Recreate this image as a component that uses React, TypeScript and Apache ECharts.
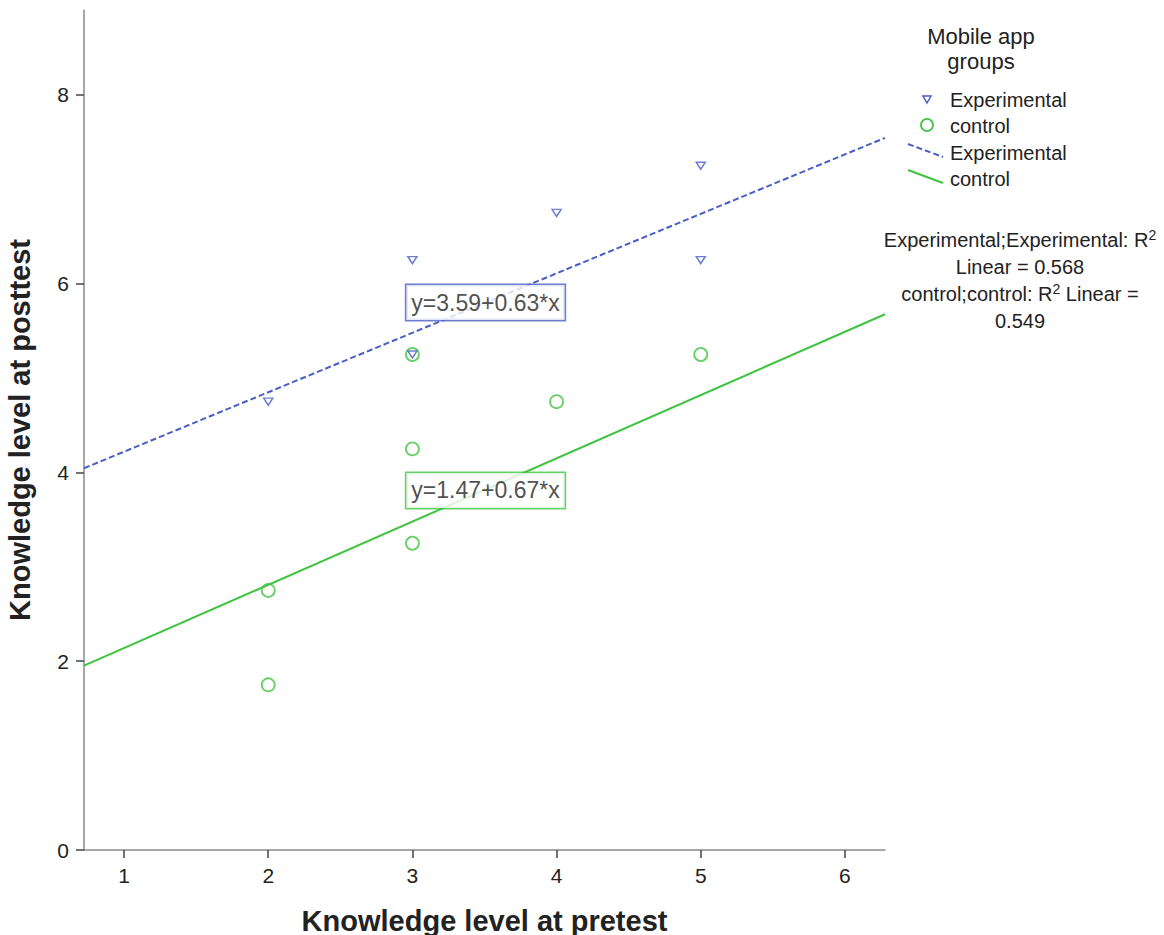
import React, { useEffect, useRef } from "react";
import * as echarts from "echarts";

// ---- data ----
const expX = [2, 3, 3, 4, 5, 5];
const expY = [4.75, 6.25, 5.25, 6.75, 7.25, 6.25];
const ctrlX = [2, 2, 3, 3, 3, 4, 5];
const ctrlY = [2.75, 1.75, 5.25, 4.25, 3.25, 4.75, 5.25];
const fitNames = ["Experimental", "control"];
const fitIntercepts = [3.59, 1.47];
const fitSlopes = [0.63, 0.67];
const rSquared = [0.568, 0.549];
const xTicks = [1, 2, 3, 4, 5, 6];
const yTicks = [0, 2, 4, 6, 8];
const xRange = [0.722, 6.278];
const yRange = [0, 8.9];

const BLUE = "#4a5ec4";
const GREEN = "#3fc43f";
const FONT = "'Liberation Sans', Arial, sans-serif";

export default function App() {
  const ref = useRef<HTMLDivElement>(null);

  useEffect(() => {
    document.body.style.margin = "0";
    if (!ref.current) return;
    const chart = echarts.init(ref.current, null, { renderer: "svg" });

    const fitLine = (i: number) =>
      [xRange[0], xRange[1]].map((x) => [x, fitIntercepts[i] + fitSlopes[i] * x]);
    const eqText = (i: number) =>
      `y=${fitIntercepts[i].toFixed(2)}+${fitSlopes[i].toFixed(2)}*x`;

    const legendText = { fontSize: 20, fill: "#222", fontFamily: FONT };

    const eqLabel = (i: number, color: string) => ({
      show: true,
      position: "inside",
      formatter: eqText(i),
      fontSize: 23,
      color: "#222",
      backgroundColor: "#fff",
      borderColor: color,
      borderWidth: 1.5,
      padding: [7, 5, 5, 5],
      fontFamily: FONT,
    });

    chart.setOption({
      animation: false,
      textStyle: { fontFamily: FONT },
      grid: { left: 84, right: 279, top: 10, bottom: 85, containLabel: false, outerBoundsMode: "none" },
      xAxis: {
        type: "value",
        min: xRange[0],
        max: xRange[1],
        name: "Knowledge level at pretest",
        nameLocation: "middle",
        nameGap: 56,
        nameTextStyle: { fontSize: 29, fontWeight: "bold", color: "#222", fontFamily: FONT },
        axisLine: { show: true, lineStyle: { color: "#8a8a8a", width: 1.5 } },
        axisTick: { show: true, length: 8, customValues: xTicks, lineStyle: { color: "#444", width: 1.5 } },
        axisLabel: { customValues: xTicks, fontSize: 21, color: "#222", margin: 15, fontFamily: FONT },
        splitLine: { show: false },
      },
      yAxis: {
        type: "value",
        min: yRange[0],
        max: yRange[1],
        name: "Knowledge level at posttest",
        nameLocation: "middle",
        nameGap: 50,
        nameTextStyle: { fontSize: 29, fontWeight: "bold", color: "#222", fontFamily: FONT },
        axisLine: { show: true, lineStyle: { color: "#8a8a8a", width: 1.5 } },
        axisTick: { show: true, length: 8, customValues: yTicks, lineStyle: { color: "#444", width: 1.5 } },
        axisLabel: { customValues: yTicks, fontSize: 21, color: "#222", margin: 15, fontFamily: FONT },
        splitLine: { show: false },
      },
      series: [
        {
          name: "Experimental fit",
          type: "line",
          data: fitLine(0),
          showSymbol: false,
          lineStyle: { color: BLUE, width: 2, type: [6, 3] },
          silent: true,
          z: 2,
        },
        {
          name: "control fit",
          type: "line",
          data: fitLine(1),
          showSymbol: false,
          lineStyle: { color: GREEN, width: 2 },
          silent: true,
          z: 2,
        },
        {
          name: "control",
          type: "scatter",
          data: ctrlX.map((x, i) => [x, ctrlY[i]]),
          symbol: "circle",
          symbolSize: 13,
          itemStyle: { color: "rgba(0,0,0,0)", borderColor: GREEN, borderWidth: 1.8 },
          z: 3,
        },
        {
          name: "Experimental",
          type: "scatter",
          data: expX.map((x, i) => [x, expY[i]]),
          symbol: "triangle",
          symbolRotate: 180,
          symbolSize: [9, 7],
          itemStyle: { color: "rgba(0,0,0,0)", borderColor: BLUE, borderWidth: 1.5 },
          z: 4,
        },
        {
          name: "labels",
          type: "scatter",
          silent: true,
          symbolSize: 1,
          itemStyle: { color: "rgba(0,0,0,0)" },
          z: 5,
          data: [
            { value: [3.507, 5.8], label: eqLabel(0, BLUE) },
            { value: [3.507, 3.81], label: eqLabel(1, GREEN) },
          ],
        },
      ],
      graphic: [
        {
          type: "text",
          x: 981,
          y: 24,
          style: {
            text: "Mobile app\ngroups",
            fontSize: 22,
            fill: "#222",
            fontFamily: FONT,
            align: "center",
            lineHeight: 25,
          },
        },
        {
          type: "polygon",
          shape: { points: [[923, 96], [931, 96], [927, 103]] },
          style: { fill: "none", stroke: BLUE, lineWidth: 1.5 },
        },
        { type: "text", x: 950, y: 100, style: { ...legendText, text: fitNames[0], verticalAlign: "middle" } },
        {
          type: "circle",
          shape: { cx: 927, cy: 125, r: 6 },
          style: { fill: "none", stroke: GREEN, lineWidth: 1.8 },
        },
        { type: "text", x: 950, y: 126, style: { ...legendText, text: fitNames[1], verticalAlign: "middle" } },
        {
          type: "line",
          shape: { x1: 908, y1: 144, x2: 943, y2: 157 },
          style: { stroke: BLUE, lineWidth: 2, lineDash: [6, 3] },
        },
        { type: "text", x: 950, y: 153, style: { ...legendText, text: fitNames[0], verticalAlign: "middle" } },
        {
          type: "line",
          shape: { x1: 908, y1: 170, x2: 943, y2: 183 },
          style: { stroke: GREEN, lineWidth: 2 },
        },
        { type: "text", x: 950, y: 179, style: { ...legendText, text: fitNames[1], verticalAlign: "middle" } },
        {
          type: "text",
          x: 1020,
          y: 226,
          style: {
            text:
              `${fitNames[0]};${fitNames[0]}: R{sup|2}\nLinear = ${rSquared[0].toFixed(3)}\n` +
              `${fitNames[1]};${fitNames[1]}: R{sup|2} Linear =\n${rSquared[1].toFixed(3)}`,
            fontSize: 20,
            fill: "#222",
            fontFamily: FONT,
            align: "center",
            lineHeight: 27,
            rich: {
              sup: { fontSize: 14, padding: [0, 0, 10, 0], fill: "#222", fontFamily: FONT },
            },
          },
        },
      ],
    });

    return () => chart.dispose();
  }, []);

  return <div ref={ref} style={{ width: 1164, height: 935 }} />;
}
